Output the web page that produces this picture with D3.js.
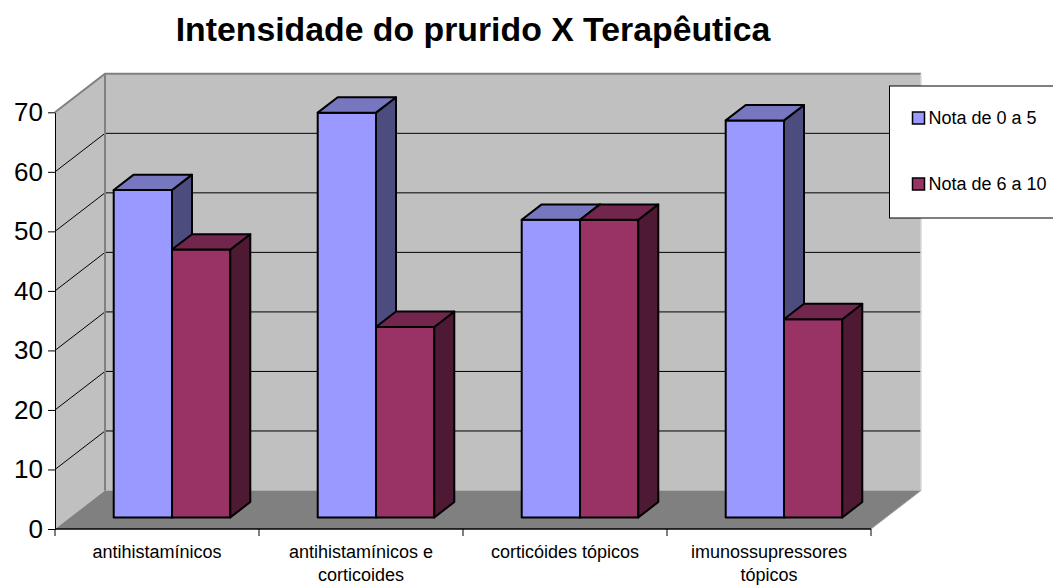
<!DOCTYPE html>
<html>
<head>
<meta charset="utf-8">
<script src="https://cdn.jsdelivr.net/npm/d3@7"></script>
<style>
  body { margin: 0; background: #fff; }
  svg { display: block; font-family: "Liberation Sans", Arial, sans-serif; }
</style>
</head>
<body>
<svg id="chart" width="1053" height="585"></svg>
<script>
// Data
const categories = ["antihistamínicos", "antihistamínicos e corticoides", "corticóides tópicos", "imunossupressores tópicos"];
const seriesNames = ["Nota de 0 a 5", "Nota de 6 a 10"];
const nota0a5 = [55, 68, 50, 66.7];
const nota6a10 = [45, 32, 50, 33.3];
const yTicks = [0, 10, 20, 30, 40, 50, 60, 70];
const title = "Intensidade do prurido X Terapêutica";

// Colors (front, top, side)
const colors = [
  { front: "#9999ff", top: "#7777bf", side: "#4c4c7f" },
  { front: "#993366", top: "#73264d", side: "#4d1933" }
];

// Layout
const width = 1053, height = 585;
const margin = { left: 55, right: 182, top: 112.3, bottom: 56 };
const depth = { dx: 50, dy: -38.5 };   // full depth of the floor
const barZ = [0.3, 0.7];                // bar front / back depth

const svg = d3.select("#chart");

// Scales
const x0 = d3.scaleBand()
  .domain(categories)
  .range([margin.left, width - margin.right])
  .padding(0);

const x1 = d3.scaleBand()
  .domain(seriesNames)
  .range([0, x0.bandwidth()])
  .paddingInner(0)
  .paddingOuter(0.75);

const y = d3.scaleLinear()
  .domain([0, 70])
  .range([height - margin.bottom, margin.top]);

// project a point (x, value, z) to the screen
const P = (x, v, z) => [x + z * depth.dx, y(v) + z * depth.dy];
const poly = pts => pts.map(p => p.join(",")).join(" ");

const x0L = x0.range()[0], x0R = x0.range()[1];
const vMax = y.domain()[1];

// Walls & floor
svg.append("polygon") // side wall
  .attr("points", poly([P(x0L, 0, 0), P(x0L, vMax, 0), P(x0L, vMax, 1), P(x0L, 0, 1)]))
  .attr("fill", "#c0c0c0");
svg.append("polygon") // back wall
  .attr("points", poly([P(x0L, 0, 1), P(x0L, vMax, 1), P(x0R, vMax, 1), P(x0R, 0, 1)]))
  .attr("fill", "#c0c0c0");
svg.append("polygon") // floor
  .attr("points", poly([P(x0L, 0, 0), P(x0R, 0, 0), P(x0R, 0, 1), P(x0L, 0, 1)]))
  .attr("fill", "#808080");

// gridlines
const grid = svg.append("g").attr("stroke", "#000").attr("stroke-width", 1).attr("fill", "none");
yTicks.filter(v => v > 0 && v < vMax).forEach(v => {
  grid.append("polyline")
    .attr("points", poly([P(x0L, v, 0), P(x0L, v, 1), P(x0R, v, 1)]));
});

// wall edges
svg.append("polyline")
  .attr("points", poly([P(x0L, vMax, 0), P(x0L, vMax, 1), P(x0R, vMax, 1)]))
  .attr("fill", "none").attr("stroke", "#808080").attr("stroke-width", 2);
svg.append("line")
  .attr("x1", P(x0L, 0, 1)[0]).attr("y1", P(x0L, 0, 1)[1])
  .attr("x2", P(x0L, vMax, 1)[0]).attr("y2", P(x0L, vMax, 1)[1])
  .attr("stroke", "#808080").attr("stroke-width", 2);
svg.append("line")
  .attr("x1", P(x0R, 0, 1)[0]).attr("y1", P(x0R, 0, 1)[1])
  .attr("x2", P(x0R, vMax, 1)[0]).attr("y2", P(x0R, vMax, 1)[1])
  .attr("stroke", "#d8d8d8").attr("stroke-width", 1.5);
svg.append("line")
  .attr("x1", P(x0R, 0, 0)[0]).attr("y1", P(x0R, 0, 0)[1])
  .attr("x2", P(x0R, 0, 1)[0]).attr("y2", P(x0R, 0, 1)[1])
  .attr("stroke", "#a0a0a0").attr("stroke-width", 1);

// Bars
const data = categories.map((c, i) => ({ cat: c, values: [nota0a5[i], nota6a10[i]] }));
const bars = svg.append("g").attr("stroke", "#000").attr("stroke-width", 2).attr("stroke-linejoin", "round");
data.forEach(d => {
  d.values.forEach((v, s) => {
    const xa = x0(d.cat) + x1(seriesNames[s]);
    const xb = xa + x1.bandwidth();
    const zf = barZ[0], zb = barZ[1];
    const g = bars.append("g");
    g.append("polygon")
      .attr("points", poly([P(xa, 0, zf), P(xb, 0, zf), P(xb, v, zf), P(xa, v, zf)]))
      .attr("fill", colors[s].front);
    g.append("polygon")
      .attr("points", poly([P(xb, 0, zf), P(xb, 0, zb), P(xb, v, zb), P(xb, v, zf)]))
      .attr("fill", colors[s].side);
    g.append("polygon")
      .attr("points", poly([P(xa, v, zf), P(xb, v, zf), P(xb, v, zb), P(xa, v, zb)]))
      .attr("fill", colors[s].top);
  });
});

// Y axis
const yAxis = g => g
  .attr("transform", `translate(${x0L},0)`)
  .call(d3.axisLeft(y).tickValues(yTicks).tickSize(7).tickPadding(5).tickSizeOuter(0))
  .call(g => g.selectAll("text").attr("font-size", 26).attr("fill", "#000").attr("font-family", null))
  .call(g => g.selectAll("line, path").attr("stroke", "#000"));
svg.append("g").attr("class", "yaxis").call(yAxis);

// X axis
const xAxisG = svg.append("g").attr("class", "xaxis");
xAxisG.append("line")
  .attr("x1", x0L).attr("x2", x0R)
  .attr("y1", y(0)).attr("y2", y(0))
  .attr("stroke", "#000").attr("stroke-width", 1.5);
const bounds = categories.map(c => x0(c)).concat([x0R]);
xAxisG.selectAll(".tick")
  .data(bounds).join("line")
  .attr("x1", d => d).attr("x2", d => d)
  .attr("y1", y(0)).attr("y2", y(0) + 7)
  .attr("stroke", "#000");

// wrap labels to band width
const labels = xAxisG.selectAll(".lbl")
  .data(categories).join("text")
  .attr("class", "lbl")
  .attr("text-anchor", "middle")
  .attr("font-size", 18)
  .attr("x", d => x0(d) + x0.bandwidth() / 2)
  .attr("y", y(0) + 29);
labels.each(function(d) {
  const t = d3.select(this);
  const words = d.split(" ");
  const cx = +t.attr("x");
  let line = [], lineNo = 0;
  let ts = t.append("tspan").attr("x", cx).attr("dy", 0);
  words.forEach(w => {
    line.push(w);
    ts.text(line.join(" "));
    if (ts.node().getComputedTextLength() > x0.bandwidth() - 10 && line.length > 1) {
      line.pop();
      ts.text(line.join(" "));
      line = [w];
      lineNo++;
      ts = t.append("tspan").attr("x", cx).attr("dy", 22.5).text(w);
    }
  });
});

// Title
svg.append("text")
  .attr("x", 473).attr("y", 41)
  .attr("text-anchor", "middle")
  .attr("font-size", 33.8).attr("font-weight", "bold")
  .text(title);

// Legend
const legend = svg.append("g").attr("transform", "translate(889.5,86)");
legend.append("rect")
  .attr("width", 200).attr("height", 132)
  .attr("fill", "#fff").attr("stroke", "#000").attr("stroke-width", 1);
seriesNames.forEach((s, i) => {
  const row = legend.append("g").attr("transform", `translate(23,${26 + i * 66})`);
  row.append("rect")
    .attr("width", 12).attr("height", 12)
    .attr("fill", colors[i].front).attr("stroke", "#000").attr("stroke-width", 1.5);
  row.append("text")
    .attr("x", 16).attr("y", 12)
    .attr("font-size", 18)
    .text(s);
});
</script>
</body>
</html>
